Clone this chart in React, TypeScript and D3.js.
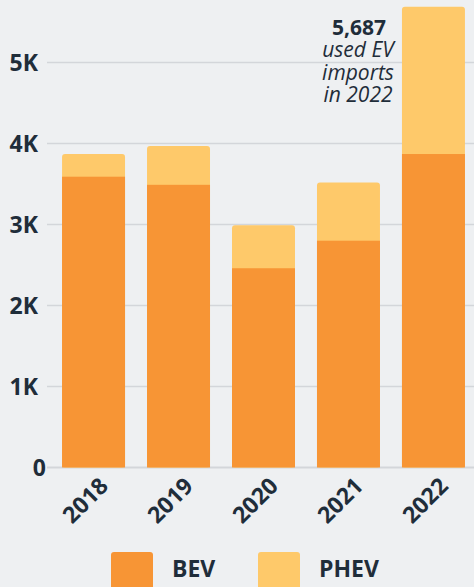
import { useEffect, useRef } from "react"
import * as d3 from "d3"

const years = ["2018", "2019", "2020", "2021", "2022"]
const bev = [3590, 3490, 2460, 2800, 3870]
const phev = [280, 480, 530, 720, 1817]
const yTicks = [0, 1000, 2000, 3000, 4000, 5000]
const series = ["BEV", "PHEV"]
const colors = ["#f79535", "#fec96a"]
const note = ["used EV", "imports", "in 2022"]

const W = 474, H = 587
const INK = "#1f2d3a"
const FONT = "'Open Sans', sans-serif"

export default function App() {
  const ref = useRef<SVGSVGElement>(null)
  useEffect(() => {
    if (!ref.current) return
    const svg = d3.select(ref.current)
    svg.selectAll("*").remove()
    svg.append("rect").attr("width", W).attr("height", H).attr("fill", "#eef0f2")

    const x = d3.scaleBand().domain(years).range([51, 476]).paddingInner(0.2588).paddingOuter(0.13)
    const y = d3.scaleLinear().domain([0, 5000]).range([467.5, 62.5])

    // grid + y labels
    const g = svg.append("g")
    g.selectAll("line").data(yTicks).join("line")
      .attr("x1", 47).attr("x2", W).attr("y1", d => y(d)).attr("y2", d => y(d))
      .attr("stroke", "#d3d6da").attr("stroke-width", d => d === 0 ? 2 : 1.5)
    g.selectAll("text").data(yTicks).join("text")
      .attr("x", d => d === 0 ? 46 : 38).attr("y", d => y(d)).attr("dy", "0.36em")
      .attr("text-anchor", "end").attr("fill", INK)
      .style("font-family", FONT).style("font-weight", 700).style("font-size", "23px")
      .text(d => d === 0 ? "0" : `${d / 1000}K`)

    // bars
    const rows = years.map((yr, i) => ({ yr, bev: bev[i], total: bev[i] + phev[i] }))
    svg.append("g").selectAll("rect").data(rows).join("rect")
      .attr("x", d => x(d.yr)!).attr("width", x.bandwidth())
      .attr("y", d => y(d.total)).attr("height", d => y(0) - y(d.total))
      .attr("rx", 3).attr("fill", colors[1])
    svg.append("g").selectAll("rect").data(rows).join("rect")
      .attr("x", d => x(d.yr)!).attr("width", x.bandwidth())
      .attr("y", d => y(d.bev)).attr("height", d => y(0) - y(d.bev))
      .attr("fill", colors[0])

    // x labels
    svg.append("g").selectAll("text").data(years).join("text")
      .attr("transform", d => `translate(${x(d)! + x.bandwidth() / 2 + 16},${y(0) + 20}) rotate(-45)`)
      .attr("text-anchor", "end").attr("fill", INK)
      .style("font-family", FONT).style("font-weight", 700).style("font-size", "23px")
      .text(d => d)

    // annotation
    const last = rows[rows.length - 1]
    const ann = svg.append("g").attr("fill", INK).style("font-family", FONT).attr("text-anchor", "middle")
    ann.append("text").attr("x", 359).attr("y", 35)
      .style("font-weight", 700).style("font-size", "21px")
      .text(d3.format(",")(last.total))
    ann.selectAll("text.n").data(note).join("text").attr("class", "n")
      .attr("x", 358).attr("y", (_, i) => 57 + i * 22.5)
      .style("font-style", "italic").style("font-size", "21px")
      .text(d => d)

    // legend
    const lx = [111, 258]
    const lg = svg.append("g").selectAll("g").data(series).join("g")
      .attr("transform", (_, i) => `translate(${lx[i]},552)`)
    lg.append("rect").attr("width", 42).attr("height", 42).attr("rx", 3)
      .attr("fill", (_, i) => colors[i])
    lg.append("text").attr("x", 61).attr("y", 25)
      .attr("fill", INK).style("font-family", FONT).style("font-weight", 700).style("font-size", "23px")
      .text(d => d)
  }, [])
  return <svg ref={ref} width={W} height={H} style={{ position: "absolute", left: 0, top: 0, display: "block" }} />
}
